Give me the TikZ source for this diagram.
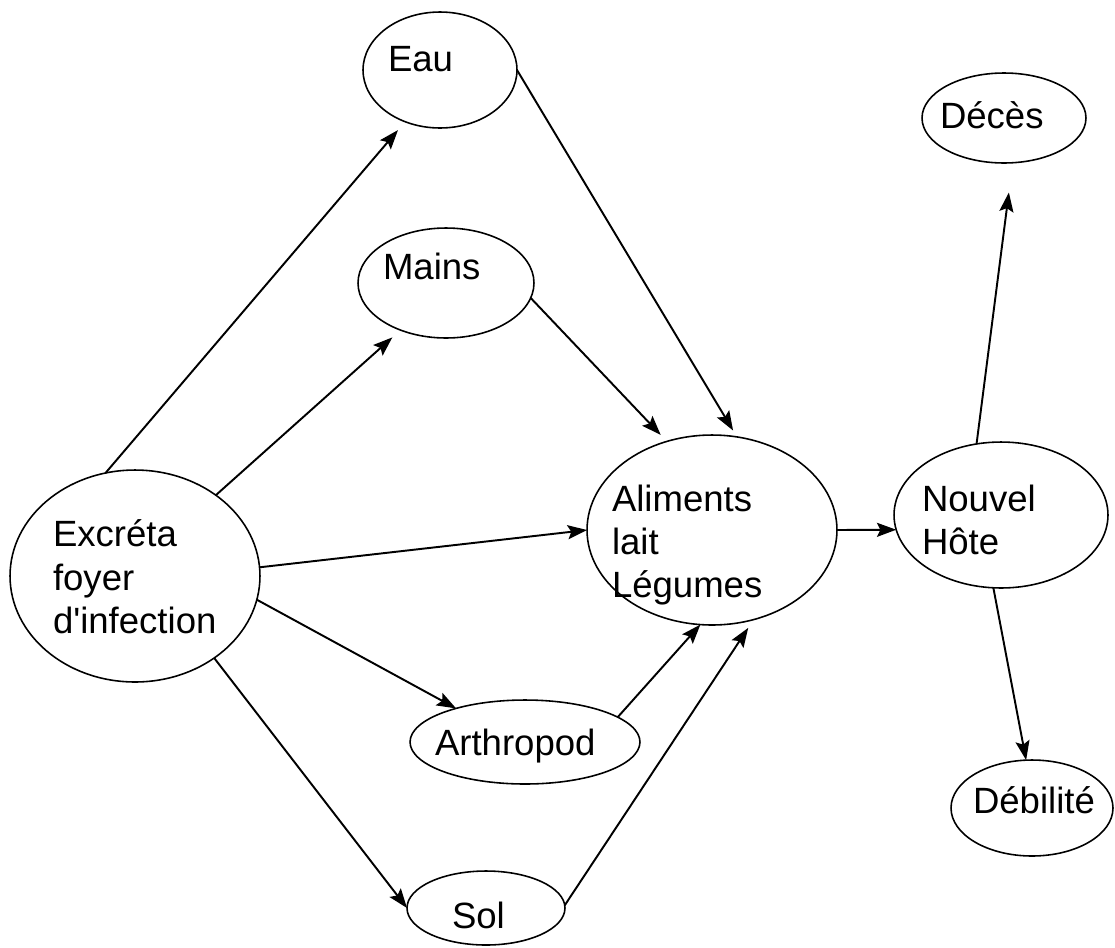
\documentclass[tikz,border=0pt]{standalone}
\usepackage{fontspec}
\setmainfont{Liberation Sans}
\usetikzlibrary{shapes.geometric,arrows.meta}
\tikzset{
  ell/.style={draw, ellipse, line width=0.9pt, inner sep=0pt, outer sep=0pt},
  lbl/.style={inner sep=0pt, outer sep=0pt, align=left, font=\fontsize{20.8}{24.7}\selectfont},
  arr/.style={line width=1.1pt, -{Stealth[length=11pt,width=8pt,inset=2pt]}}
}
\begin{document}
\begin{tikzpicture}[x=0.02cm,y=-0.02cm]
\useasboundingbox (0,0) rectangle (1115,947);
% ellipses
\node[ell, minimum width=3.08cm, minimum height=2.32cm] (eau) at (440,70) {};
\node[ell, minimum width=3.52cm, minimum height=2.2cm] (mains) at (446,283) {};
\node[ell, minimum width=5.0cm, minimum height=4.24cm] (exc) at (135,576) {};
\node[ell, minimum width=5.0cm, minimum height=3.8cm] (alim) at (712,530) {};
\node[ell, minimum width=4.28cm, minimum height=2.92cm] (nouv) at (1001,515) {};
\node[ell, minimum width=3.28cm, minimum height=1.8cm] (deces) at (1004,118) {};
\node[ell, minimum width=3.24cm, minimum height=1.92cm] (debil) at (1032,808) {};
\node[ell, minimum width=4.6cm, minimum height=1.68cm] (arth) at (525,742) {};
\node[ell, minimum width=3.16cm, minimum height=1.48cm] (sol) at (486,908) {};
% labels
\node[lbl, anchor=base west] (eau-t) at (388,71) {Eau};
\node[lbl, anchor=base west] (mains-t) at (383,279) {Mains};
\node[lbl, anchor=west] (exc-t) at (53,577) {Excréta\\foyer\\d\textquotesingle infection};
\node[lbl, anchor=west] (alim-t) at (612,545) {Aliments\\lait\\Légumes};
\node[lbl, anchor=west] (nouv-t) at (922,520) {Nouvel\\Hôte};
\node[lbl, anchor=base west] (deces-t) at (940,128) {Décès};
\node[lbl, anchor=base west] (debil-t) at (973,813) {Débilité};
\node[lbl, anchor=base west] (arth-t) at (435,755) {Arthropod};
\node[lbl, anchor=base west] (sol-t) at (452,928) {Sol};
% connectors
\draw[arr, shorten >=0.22cm] (exc.106) -- (eau.236);
\draw[arr, shorten >=0.22cm] (exc.45) -- (mains.226);
\draw[arr] (exc.4) -- (alim.180);
\draw[arr] (exc.349) -- (arth.154);
\draw[arr] (exc.314) -- (sol.180);
\draw[arr, shorten >=0.15cm] (eau.0) -- (alim.75);
\draw[arr, shorten >=0.18cm] (mains.350) -- (alim.117);
\draw[arr] (arth.15) -- (alim.263);
\draw[arr, shorten >=0.2cm] (sol.2) -- (alim.295);
\draw[arr] (alim.0) -- (nouv.188);
\draw[arr, shorten >=0.6cm] (nouv.109) -- (deces.281);
\draw[arr] (nouv.264) -- (debil.97);
\end{tikzpicture}
\end{document}
